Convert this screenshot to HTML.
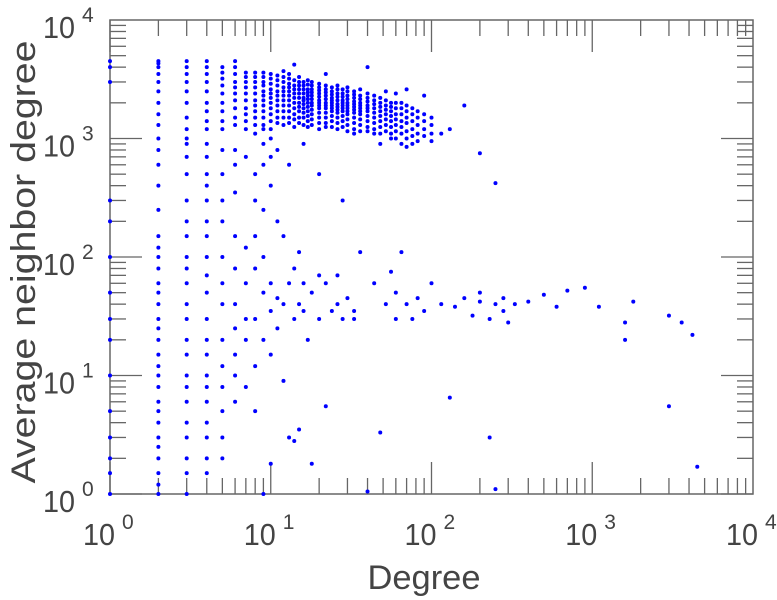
<!DOCTYPE html>
<html><head><meta charset="utf-8">
<style>
body{margin:0;background:#fff;}
svg{display:block;font-family:"Liberation Sans",sans-serif;}
</style></head>
<body>
<svg id="chart" width="777" height="600" viewBox="0 0 777 600" xmlns="http://www.w3.org/2000/svg">
<g id="axes"></g>
<g id="points"></g>
<text x="424" y="589" text-anchor="middle" font-size="34" fill="#444" textLength="113" lengthAdjust="spacingAndGlyphs">Degree</text>
<text transform="translate(35,262) rotate(-90)" text-anchor="middle" font-size="34" fill="#444" textLength="443" lengthAdjust="spacingAndGlyphs">Average neighbor degree</text>
</svg>
<script>
const xTickExps = [0,1,2,3,4];
const yTickExps = [0,1,2,3,4];
const degGroups = [1,2,3,4,5,6,7,8,9,10,11,12,13,14,15,16,17,18,20,22,24,26,28,30,33,36,40,44,48,52,56,60,65,70,76,82,90,100,115,130,140,160,180,200,230,250,280,300,330,400,500,600,700,900,1100,1600,1800,3000,3600,4200,4500];
const knnGroups = [
[4500,4000,3000,300,200,100,50,30,20,10,5,3,2,1.5,1],
[4500,4300,4000,3500,3000,2500,2000,1600,1300,1000,800,600,400,250,150,120,100,80,60,50,40,30,25,20,15,12,10,8,6,5,4,3,2.5,2,1.5,1.2,1],
[4500,4000,3500,3000,2500,2000,1500,1200,1000,900,700,500,300,200,150,100,80,60,40,30,20,15,10,8,6,4,3,2,1.5,1],
[4500,4000,3500,3000,2500,2000,1700,1400,1200,900,700,500,400,300,200,150,100,70,50,30,20,15,10,8,6,4,3,2,1.5],
[4000,3600,3200,2800,2400,2000,1700,1400,1200,800,500,300,200,100,60,40,20,12,8,5,3,2],
[4500,4000,3500,3000,2700,2400,2100,1800,1500,1300,800,600,350,150,80,40,25,15,10,6],
[3600,3300,3000,2700,2400,2100,1800,1600,1400,1200,700,120,60,30,20,8],
[3600,3300,3000,2700,2400,2100,1900,1700,1500,1300,1100,500,300,150,80,30,12,5],
[3600,3300,3000,2800,2500,2300,2100,1900,1700,1500,1300,1200,900,600,250,100,50,20,1],
[3500,3200,2900,2600,2400,2200,2000,1800,1600,1400,1200,1000,700,400,60,35,15,1.8],
[3400,3100,2800,2500,2300,2100,1900,1700,1500,1350,800,200,45,25],
[3700,3300,3000,2700,2500,2300,2100,1900,1700,1500,1300,150,40,9],
[3500,3200,2900,2700,2500,2300,2100,1900,1700,1500,1350,600,60,3],
[4200,3100,2800,2600,2400,2200,2000,1800,1600,1450,1250,80,30,2.8],
[3300,3000,2800,2600,2400,2200,2000,1850,1700,1500,1350,110,40,3.5],
[3000,2800,2600,2400,2200,2100,1950,1800,1650,1500,1300,900,60,35],
[3100,2850,2600,2450,2300,2150,2000,1850,1700,1550,1400,1250,20],
[3000,2800,2600,2450,2300,2150,2000,1900,1750,1600,1450,1300,50,1.8],
[2900,2700,2550,2400,2250,2100,2000,1900,1800,1650,1500,1350,1200,500,70,30],
[3500,2800,2600,2450,2300,2150,2000,1900,1800,1650,1500,1350,1250,60,5.5],
[2700,2500,2350,2200,2100,2000,1900,1800,1700,1550,1400,1250,35],
[2800,2600,2400,2250,2100,1950,1850,1750,1650,1500,1350,1200,70,40],
[2600,2400,2250,2100,2000,1900,1800,1700,1550,1400,1250,300,30],
[2700,2500,2300,2150,2000,1900,1800,1700,1600,1450,1300,1150,45],
[2500,2350,2200,2050,1950,1850,1750,1650,1500,1350,1200,1100,35,30],
[2600,2300,2150,2000,1900,1800,1700,1600,1450,1300,1150,110],
[4000,2400,2200,2050,1900,1800,1700,1550,1400,1250,1150,1.05],
[2300,2100,1950,1800,1650,1500,1350,1200,1100,60],
[2200,2000,1850,1700,1550,1400,1250,1100,900,3.3],
[2500,2100,1900,1750,1600,1450,1300,1150,40],
[2000,1850,1700,1550,1400,1250,1100,1000,75],
[2400,2000,1800,1600,1450,1300,1150,1000,50,30],
[2000,1800,1600,1400,1250,1100,900,110],
[2600,1900,1700,1500,1350,1150,1000,850,40],
[1800,1600,1400,1200,1050,900,30],
[1700,1500,1300,1100,950,45],
[2300,1600,1400,1200,1050,35],
[1500,1300,1100,950,60],
[1100,40],[1200,6.5],[38],[1900,45],[32],[750,42,50],[30,3],[420,40,1.1],[45,35],[28],[40],[42],[48],[38],[52],[55],[38],[28,20],[42],[32,5.5],[28],[22],[1.7]
];
const L=110,R=753,T=20,B=494;
const xScale=v=>L+(R-L)*Math.log10(v)/4;
const yScale=v=>B-(B-T)*Math.log10(v)/4;
const NS="http://www.w3.org/2000/svg";
const ax=document.getElementById('axes');
function mk(tag,attrs,parent){const e=document.createElementNS(NS,tag);for(const k in attrs)e.setAttribute(k,attrs[k]);parent.appendChild(e);return e;}
for(let e=0;e<4;e++){for(let m=1;m<10;m++){const v=Math.pow(10,e)*m;const len=m===1?32:16;
 const x=xScale(v);
 let t=mk('line',{x1:x,x2:x,y1:B,y2:B-len,stroke:'#666','stroke-width':1.3},ax);
 
 
 t=mk('line',{x1:x,x2:x,y1:T,y2:T+len,stroke:'#666','stroke-width':1.3},ax);
 
 
 const y=yScale(v);
 t=mk('line',{x1:L,x2:L+len,y1:y,y2:y,stroke:'#666','stroke-width':1.3},ax);
 
 
 t=mk('line',{x1:R,x2:R-len,y1:y,y2:y,stroke:'#666','stroke-width':1.3},ax);
 
 
}}
const fr=mk('rect',{x:L,y:T,width:R-L,height:B-T,fill:'none',stroke:'#666','stroke-width':1.5},ax);


function tickLabel(x,y,e,name){
 const g=mk('g',{},ax);
 
 
 const a=mk('text',{x:x,y:y,'font-size':31,fill:'#444',textLength:32,lengthAdjust:'spacingAndGlyphs'},g);
 a.textContent='10';
 const b=mk('text',{x:x+39,y:y-16,'font-size':21,fill:'#444'},g);
 b.textContent=String(e);
}
xTickExps.forEach(e=>{tickLabel(xScale(Math.pow(10,e))-27,545,e,'x-tick-label');});
yTickExps.forEach(e=>{tickLabel(43,yScale(Math.pow(10,e))+18,e,'y-tick-label');});
const pg=document.getElementById('points');
degGroups.forEach((d,i)=>{knnGroups[i].forEach(k=>{
 const c=mk('circle',{cx:xScale(d),cy:yScale(k),r:2,fill:'#0000ff'},pg);
 
 
});});
</script>
</body></html>
